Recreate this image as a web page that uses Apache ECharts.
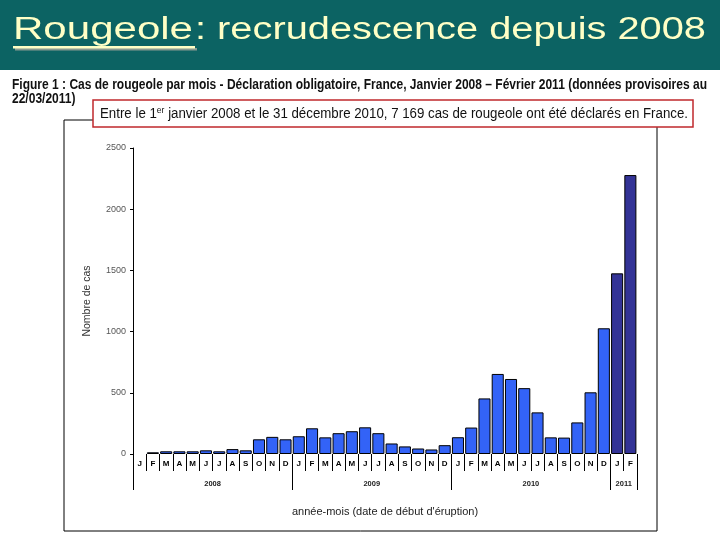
<!DOCTYPE html>
<html><head><meta charset="utf-8">
<script src="https://cdn.jsdelivr.net/npm/echarts@6/dist/echarts.min.js"></script>
<style>html,body{margin:0;padding:0;background:#fff}#c{width:720px;height:540px}</style>
</head><body><div id="c"></div>
<script>
// ---- data ----
const monthLetters = ['J','F','M','A','M','J','J','A','S','O','N','D'];
const years = ['2008','2009','2010','2011'];
const cases2008 = [0, 14, 22, 22, 22, 30, 22, 40, 30, 120, 140, 120];
const cases2009 = [145, 210, 136, 170, 186, 218, 170, 86, 62, 45, 37, 72];
const cases2010 = [137, 216, 454, 654, 613, 538, 340, 136, 134, 258, 504, 1027];
const cases2011 = [1476, 2279];
const provisionalYear = '2011';
const yTicks = [0, 500, 1000, 1500, 2000, 2500];

const headerTitle = 'Rougeole';
const headerRest = ': recrudescence depuis 2008';
const captionLine1 = 'Figure 1 : Cas de rougeole par mois - Déclaration obligatoire, France, Janvier 2008 – Février 2011 (données provisoires au';
const captionLine2 = '22/03/2011)';
const boxPre = 'Entre le 1', boxSup = 'er', boxPost = ' janvier 2008 et le 31 décembre 2010, 7 169 cas de rougeole ont été déclarés en France.';
const yName = 'Nombre de cas';
const xName = "année-mois (date de début d'éruption)";

// ---- build ----
const perYear = [cases2008, cases2009, cases2010, cases2011];
const categories = [], values = [], yearOf = [];
perYear.forEach((arr, yi) => arr.forEach((v, mi) => {
  categories.push(years[yi] + '-' + (mi + 1));
  values.push(v);
  yearOf.push(years[yi]);
}));
const boundaries = [0];
perYear.forEach(a => boundaries.push(boundaries[boundaries.length - 1] + a.length));
const yearMid = years.map((y, i) => (boundaries[i] + boundaries[i + 1]) / 2);

const BLUE = '#3363F7', NAVY = '#333396';

function tw(str, font) {
  const ctx = document.createElement('canvas').getContext('2d');
  ctx.font = font; return ctx.measureText(str).width;
}
const FF = '"Liberation Sans", Arial, sans-serif';
const titleFont = '31px ' + FF;
const s1 = 180 / tw(headerTitle, titleFont);
const s2 = 511 / tw(headerRest, titleFont);
const capFont = 'bold 14px ' + FF;
const sc = 695 / tw(captionLine1, capFont);
const boxFont = '14px ' + FF;
const boxW = tw(boxPre, boxFont) + tw(boxSup, '9px ' + FF) + tw(boxPost, boxFont);
const sb = 588 / boxW;
const SH = { shadowColor: 'rgba(150,160,150,0.9)', shadowOffsetX: 2, shadowOffsetY: 2 };

const chart = echarts.init(document.getElementById('c'));
chart.setOption({
  animation: false,
  backgroundColor: '#fff',
  grid: { left: 133, right: 83, top: 148, bottom: 86, containLabel: false },
  xAxis: [{
    type: 'category', data: categories, boundaryGap: true,
    axisLine: { show: false },
    axisTick: { show: true, interval: 0, length: 17, lineStyle: { color: '#000', width: 1 } },
    axisLabel: { interval: 0, formatter: (v) => monthLetters[Number(v.split('-')[1]) - 1],
      fontSize: 8, fontWeight: 'bold', color: '#000', margin: 6, fontFamily: FF },
    name: xName, nameLocation: 'middle', nameGap: 52,
    nameTextStyle: { fontSize: 11, color: '#222', fontFamily: FF }
  }, {
    type: 'value', min: 0, max: boundaries[boundaries.length - 1], position: 'bottom',
    axisLine: { show: false }, splitLine: { show: false },
    axisTick: { show: true, customValues: boundaries, length: 36, lineStyle: { color: '#000', width: 1 } },
    axisLabel: { show: true, customValues: yearMid, formatter: v => years[yearMid.indexOf(v)] || '',
      fontSize: 7.5, fontWeight: 'bold', color: '#222', margin: 26, fontFamily: FF }
  }],
  yAxis: {
    type: 'value', min: yTicks[0], max: yTicks[yTicks.length - 1], interval: yTicks[1] - yTicks[0],
    axisLine: { show: true, lineStyle: { color: '#000', width: 1 } },
    axisTick: { show: true, length: 3, lineStyle: { color: '#000' } },
    axisLabel: { fontSize: 9, color: '#555', margin: 7, fontFamily: FF, formatter: v => String(v) },
    splitLine: { show: false },
    name: yName, nameLocation: 'middle', nameGap: 40, nameRotate: 90,
    nameTextStyle: { fontSize: 10.5, color: '#333', fontFamily: FF }
  },
  series: [{
    type: 'bar', xAxisIndex: 0, barCategoryGap: '9%',
    data: values.map((v, i) => ({ value: v, itemStyle: {
      color: yearOf[i] === provisionalYear ? NAVY : BLUE, borderWidth: v > 0 ? 1 : 0 } })),
    itemStyle: { borderColor: '#000', borderWidth: 1 }
  }],
  graphic: [
    { type: 'rect', shape: { x: 0, y: 0, width: 720, height: 70 }, style: { fill: '#0C6363' }, silent: true },
    { type: 'text', x: 13, y: 30, scaleX: s1, style: Object.assign({ text: headerTitle, font: titleFont, fill: '#FFFFC6',
      verticalAlign: 'middle' }, SH) },
    { type: 'rect', shape: { x: 13, y: 46, width: 182, height: 2.5 }, style: Object.assign({ fill: '#FFFFC6' }, SH) },
    { type: 'text', x: 195, y: 30, scaleX: s2, style: Object.assign({ text: headerRest, font: titleFont, fill: '#FFFFC6',
      verticalAlign: 'middle' }, SH) },
    { type: 'text', x: 12, y: 85, scaleX: sc, style: { text: captionLine1, font: capFont, fill: '#111', verticalAlign: 'middle' } },
    { type: 'text', x: 12, y: 99, scaleX: sc, style: { text: captionLine2, font: capFont, fill: '#111', verticalAlign: 'middle' } },
    { type: 'polyline', shape: { points: [[93, 120], [64, 120], [64, 531], [657, 531], [657, 127]] },
      style: { stroke: '#000', lineWidth: 1, fill: null } },
    { type: 'rect', shape: { x: 93, y: 100, width: 600, height: 27 }, style: { fill: '#fff', stroke: '#C0282D', lineWidth: 1.5 } },
    { type: 'text', x: 100, y: 114, scaleX: sb, style: {
      text: boxPre + '{sup|' + boxSup + '}' + boxPost, font: boxFont, fill: '#111', verticalAlign: 'middle',
      rich: { sup: { fontSize: 9, fontFamily: FF, verticalAlign: 'top', padding: [0, 0, 6, 0] } } } }
  ]
});
</script></body></html>
